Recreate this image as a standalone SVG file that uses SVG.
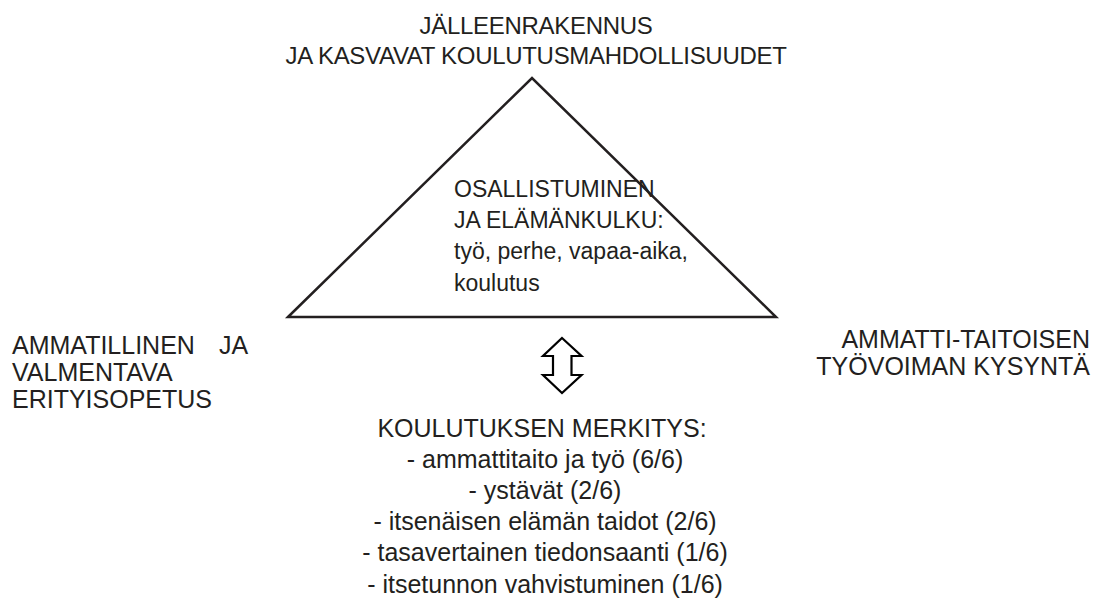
<svg xmlns="http://www.w3.org/2000/svg" width="1096" height="598" viewBox="0 0 1096 598">
<style>
text{font-family:"Liberation Sans",Arial,sans-serif;fill:#231f20}
.t{font-size:24px}
.m{font-size:23px}
.l{font-size:25px}
.c{text-anchor:middle}
.r{text-anchor:end}
.shape{fill:none;stroke:#231f20;stroke-width:2.5;stroke-linejoin:miter}
.arrow{fill:#fff;stroke:#000;stroke-width:2.2;stroke-linejoin:miter}
</style>
<rect width="1096" height="598" fill="#fff"/>
<g id="title">
<text class="t c" x="536" y="34" letter-spacing="-0.3">JÄLLEENRAKENNUS</text>
<text class="t c" x="536" y="64" letter-spacing="-0.3">JA KASVAVAT KOULUTUSMAHDOLLISUUDET</text>
</g>
<g id="triangle">
<polygon class="shape" points="288,317 532,78 776,317"/>
<text class="m" x="454" y="197">OSALLISTUMINEN</text>
<text class="m" x="454" y="228">JA ELÄMÄNKULKU:</text>
<text class="m" x="454" y="259">työ, perhe, vapaa-aika,</text>
<text class="m" x="454" y="291">koulutus</text>
</g>
<g id="left">
<text class="l" x="12" y="354">AMMATILLINEN</text>
<text class="l" x="219" y="354">JA</text>
<text class="l" x="12" y="381">VALMENTAVA</text>
<text class="l" x="12" y="408">ERITYISOPETUS</text>
</g>
<g id="right">
<text class="l r" x="1090" y="348">AMMATTI-TAITOISEN</text>
<text class="l r" x="1090" y="375">TYÖVOIMAN KYSYNTÄ</text>
</g>
<g id="connectors">
<polygon class="arrow" points="562,338 581.5,356 571.5,356 571.5,375 581.5,375 562,393 543,375 553,375 553,356 543,356"/>
</g>
<g id="bottom">
<text class="l c" x="542" y="437">KOULUTUKSEN MERKITYS:</text>
<text class="l c" x="545" y="468">- ammattitaito ja työ (6/6)</text>
<text class="l c" x="545" y="499">- ystävät (2/6)</text>
<text class="l c" x="545" y="530">- itsenäisen elämän taidot (2/6)</text>
<text class="l c" x="545" y="561">- tasavertainen tiedonsaanti (1/6)</text>
<text class="l c" x="545" y="593">- itsetunnon vahvistuminen (1/6)</text>
</g>
</svg>
